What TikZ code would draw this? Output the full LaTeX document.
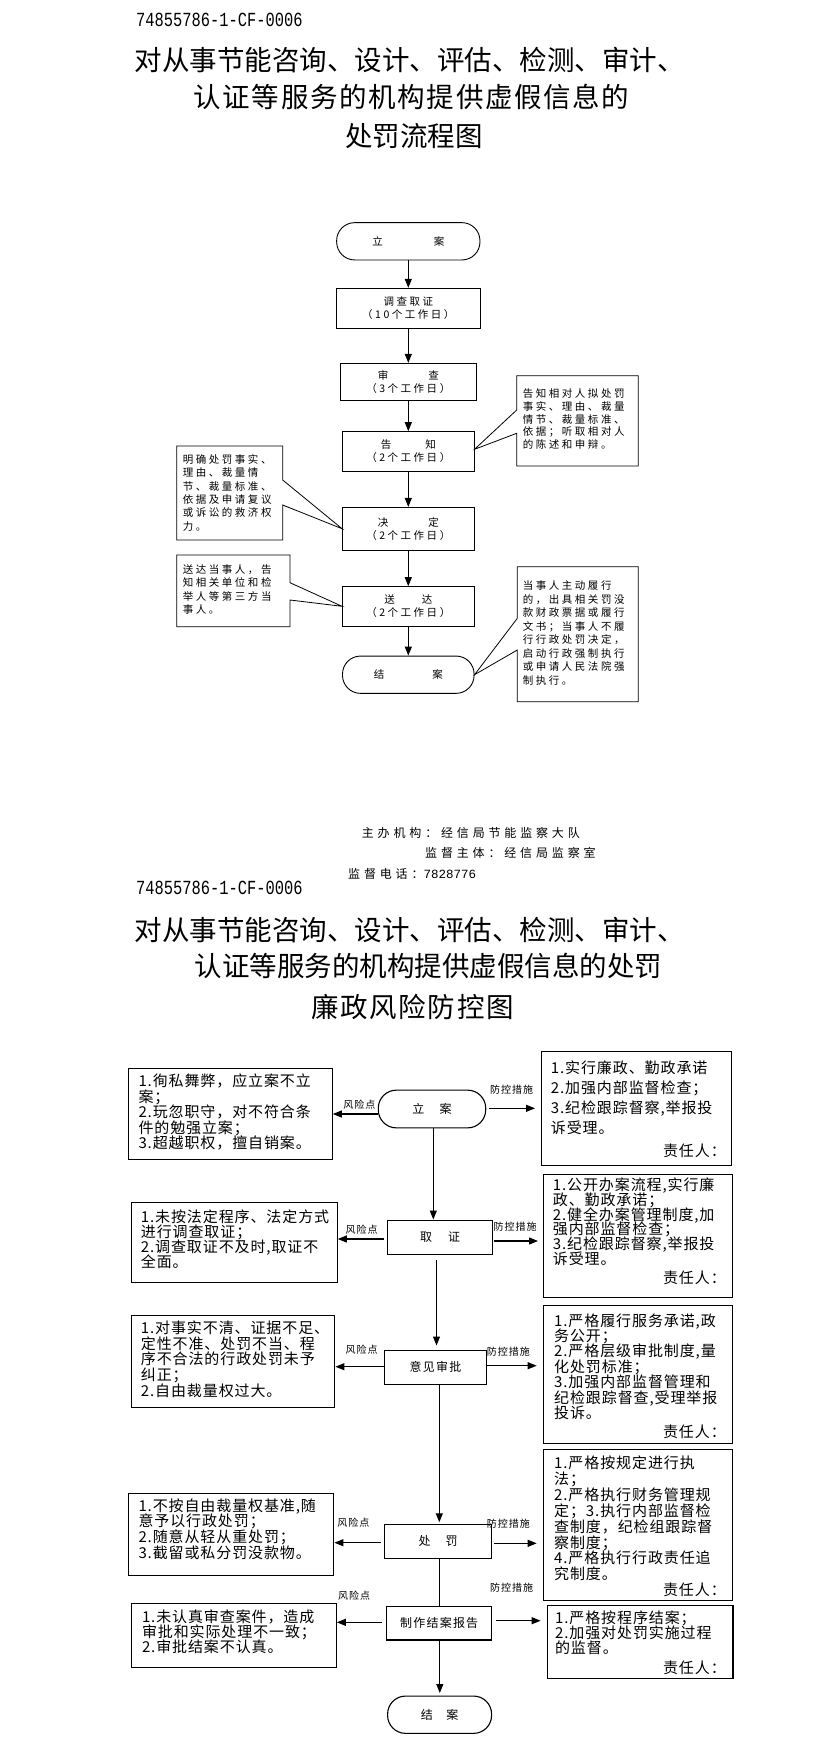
\documentclass[tikz,border=0pt]{standalone}
\usepackage{fontspec}
\setmainfont{Noto Sans CJK SC}
\newfontfamily\fa{Noto Sans CJK SC}[LetterSpace=24]
\newfontfamily\fb{Noto Sans CJK SC}[LetterSpace=6]
\newfontfamily\fc{Noto Sans CJK SC}[LetterSpace=10]
\newfontfamily\ff{Noto Sans CJK SC}[LetterSpace=32]
\newfontfamily\ft{Noto Sans CJK SC}[LetterSpace=6]
\newfontfamily\fm{Liberation Mono}[FakeStretch=0.77]
\newfontfamily\fmn{Liberation Mono}
\usetikzlibrary{arrows.meta}
\AtBeginDocument{\lineskiplimit=-100pt\lineskip=0pt}
\begin{document}
\begin{tikzpicture}[x=1pt,y=-1pt,
  every node/.append style={execute at begin node={\lineskiplimit=-100pt\lineskip=0pt}},
  ttl/.style={inner sep=0, font=\fontsize{27.5}{27.5}\selectfont},
  codef/.style={anchor=west, inner sep=0, font=\fm\fontsize{20}{20}\selectfont},
  n1/.style={draw, line width=0.9pt, inner sep=0, align=center, font=\fa\fontsize{10.5}{13.3}\selectfont},
  st1/.style={n1, rounded corners=18pt},
  a1/.style={-{Triangle[length=9pt,width=7pt]}, line width=0.9pt},
  co/.style={draw, line width=0.8pt, fill=white, line join=miter},
  ct/.style={anchor=north west, inner sep=0, align=left, font=\fa\fontsize{10.5}{#1}\selectfont},
  fo/.style={anchor=west, inner sep=0, font=\ff\fontsize{12}{12}\selectfont},
  n2/.style={draw, line width=1.1pt, inner sep=0, align=center, font=\fc\fontsize{12}{14}\selectfont},
  st2/.style={n2, rounded corners=18pt},
  bb/.style={draw, line width=1.1pt, anchor=north west, inner sep=0},
  bt/.style={anchor=north west, inner sep=0, align=left, font=\fb\fontsize{15}{#1}\selectfont},
  rp/.style={anchor=east, inner sep=0, font=\fb\fontsize{15}{15}\selectfont},
  lab/.style={inner sep=0, font=\fc\fontsize{10}{12}\selectfont},
  a2/.style={-{Triangle[length=9pt,width=7pt]}, line width=1.1pt}
]
\useasboundingbox (0,0) rectangle (823,1749);
\fill[white] (0,0) rectangle (823,1749);

% ---------- page 1 header ----------
\node[codef] (code1) at (136,20) {74855786-1-CF-0006};
\node[ttl] (t1a) at (409.5,60) {对从事节能咨询、设计、评估、检测、审计、};
\node[ttl, font=\ft\fontsize{27.5}{27.5}\selectfont] (t1b) at (411.5,97) {认证等服务的机构提供虚假信息的};
\node[ttl] (t1c) at (414,136) {处罚流程图};

% ---------- flowchart 1 ----------
\node[st1, minimum width=143.3pt, minimum height=37.3pt] (la) at (408.3,241.3) {立\hspace{51pt}案};
\node[n1, minimum width=143.3pt, minimum height=40pt] (dc) at (408.3,308.3) {调查取证\\（10个工作日）};
\node[n1, minimum width=135.3pt, minimum height=37.4pt] (sc) at (408.3,382) {审\hspace{40pt}查\\（3个工作日）};
\node[n1, minimum width=131.6pt, minimum height=39.3pt] (gz) at (408.3,451.3) {告\hspace{34pt}知\\（2个工作日）};
\node[n1, minimum width=131.6pt, minimum height=42.7pt] (jd) at (408.3,528.7) {决\hspace{40pt}定\\（2个工作日）};
\node[n1, minimum width=131.6pt, minimum height=39.3pt] (sd) at (408.3,606.3) {送\hspace{27pt}达\\（2个工作日）};
\node[st1, minimum width=131.6pt, minimum height=37.3pt] (ja) at (408.3,674.7) {结\hspace{48pt}案};

\draw[a1] (la.south) -- (dc.north);
\draw[a1] (dc.south) -- (sc.north);
\draw[a1] (sc.south) -- (gz.north);
\draw[a1] (gz.south) -- (jd.north);
\draw[a1] (jd.south) -- (sd.north);
\draw[a1] (sd.south) -- (ja.north);

% callouts
\draw[co] (516.7,375.7) -- (638.3,375.7) -- (638.3,466) -- (516.7,466) -- (516.7,433.3) -- ([yshift=2pt]gz.east) -- (516.7,410) -- cycle;
\node[ct=12.7] (c1) at (522.7,388.8) {告知相对人拟处罚\\事实、理由、裁量\\情节、裁量标准、\\依据；听取相对人\\的陈述和申辩。};

\draw[co] (176.7,446) -- (282.7,446) -- (282.7,480) -- (jd.west) -- (282.7,505) -- (282.7,540) -- (176.7,540) -- cycle;
\node[ct=13.4] (c2) at (182.7,454.1) {明确处罚事实、\\理由、裁量情\\节、裁量标准、\\依据及申请复议\\或诉讼的救济权\\力。};

\draw[co] (176.7,555) -- (290,555) -- (290,582.7) -- (sd.west) -- (290,600) -- (290,626.7) -- (176.7,626.7) -- cycle;
\node[ct=13.5] (c3) at (182.7,564.1) {送达当事人，告\\知相关单位和检\\举人等第三方当\\事人。};

\draw[co] (517.3,566.7) -- (638.3,566.7) -- (638.3,701.7) -- (517.3,701.7) -- (517.3,650) -- (ja.east) -- (517.3,618.3) -- cycle;
\node[ct=13.5] (c4) at (522.7,580.8) {当事人主动履行\\的，出具相关罚没\\款财政票据或履行\\文书；当事人不履\\行行政处罚决定，\\启动行政强制执行\\或申请人民法院强\\制执行。};

% footer
\node[fo] (f1) at (361.7,832.7) {主办机构：经信局节能监察大队};
\node[fo] (f2) at (425,853.3) {监督主体：经信局监察室};
\node[fo] (f3) at (348,874) {监督电话：{\fmn\fontsize{12.5}{12.5}\selectfont 7828776}};

% ---------- page 2 header ----------
\node[codef] (code2) at (136,888) {74855786-1-CF-0006};
\node[ttl] (t2a) at (409.5,930) {对从事节能咨询、设计、评估、检测、审计、};
\node[ttl] (t2b) at (428.5,966) {认证等服务的机构提供虚假信息的处罚};
\node[ttl, font=\ft\fontsize{27.5}{27.5}\selectfont] (t2c) at (412.5,1007) {廉政风险防控图};

% ---------- flowchart 2 ----------
\node[st2, minimum width=107.4pt, minimum height=37.7pt] (la2) at (432,1109) {立\hspace{15.5pt}案};
\node[n2, minimum width=104.6pt, minimum height=34.3pt] (qz) at (440,1237.2) {取\hspace{16pt}证};
\node[n2, minimum width=102.4pt, minimum height=34.3pt] (yj) at (435.5,1367.2) {意见审批};
\node[n2, minimum width=107.4pt, minimum height=34pt] (cf) at (438,1541.3) {处\hspace{15pt}罚};
\node[n2, minimum width=105pt, minimum height=33.3pt] (zz) at (439.2,1623.3) {制作结案报告};
\node[st2, minimum width=104pt, minimum height=37.3pt] (ja2) at (439.6,1714.7) {结\hspace{13.3pt}案};

% side boxes
\node[bb, minimum width=203.4pt, minimum height=91.6pt] (L1) at (128.3,1067.7) {};
\node[bb, minimum width=206pt, minimum height=80.6pt] (L2) at (130.7,1201.7) {};
\node[bb, minimum width=203.6pt, minimum height=92.3pt] (L3) at (130.7,1315) {};
\node[bb, minimum width=205pt, minimum height=82.3pt] (L4) at (128.3,1492.7) {};
\node[bb, minimum width=204.5pt, minimum height=63.4pt] (L5) at (131.2,1603.3) {};
\node[bb, minimum width=190pt, minimum height=114pt] (R1) at (540.7,1051) {};
\node[bb, minimum width=189pt, minimum height=122.4pt] (R2) at (542.7,1174.3) {};
\node[bb, minimum width=188.4pt, minimum height=138.3pt] (R3) at (543.3,1305) {};
\node[bb, minimum width=188.4pt, minimum height=150.7pt] (R4) at (543.3,1449.3) {};
\node[bb, minimum width=185.7pt, minimum height=73.3pt] (R5) at (546.7,1605) {};

% side box texts
\node[bt=15.6] (L1t) at (138.3,1073.5) {1.徇私舞弊，应立案不立\\案；\\2.玩忽职守，对不符合条\\件的勉强立案；\\3.超越职权，擅自销案。};
\node[bt=15] (L2t) at (140.7,1209.2) {1.未按法定程序、法定方式\\进行调查取证；\\2.调查取证不及时,取证不\\全面。};
\node[bt=15.6] (L3t) at (140.7,1320.8) {1.对事实不清、证据不足、\\定性不准、处罚不当、程\\序不合法的行政处罚未予\\纠正；\\2.自由裁量权过大。};
\node[bt=15.6] (L4t) at (138.3,1498.5) {1.不按自由裁量权基准,随\\意予以行政处罚；\\2.随意从轻从重处罚；\\3.截留或私分罚没款物。};
\node[bt=15.3] (L5t) at (141.8,1609.2) {1.未认真审查案件，造成\\审批和实际处理不一致；\\2.审批结案不认真。};

\node[bt=20] (R1t) at (550.7,1060.8) {1.实行廉政、勤政承诺\\2.加强内部监督检查；\\3.纪检跟踪督察,举报投\\诉受理。};
\node[rp] (R1p) at (726,1151) {责任人：};
\node[bt=14.8] (R2t) at (552.7,1177.5) {1.公开办案流程,实行廉\\政、勤政承诺；\\2.健全办案管理制度,加\\强内部监督检查；\\3.纪检跟踪督察,举报投\\诉受理。};
\node[rp] (R2p) at (726,1278) {责任人：};
\node[bt=15.4] (R3t) at (554,1313.2) {1.严格履行服务承诺,政\\务公开；\\2.严格层级审批制度,量\\化处罚标准；\\3.加强内部监督管理和\\纪检跟踪督查,受理举报\\投诉。};
\node[rp] (R3p) at (726,1431.7) {责任人：};
\node[bt=15.86] (R4t) at (554,1455.8) {1.严格按规定进行执\\法；\\2.严格执行财务管理规\\定；3.执行内部监督检\\查制度，纪检组跟踪督\\察制度；\\4.严格执行行政责任追\\究制度。};
\node[rp] (R4p) at (726,1590) {责任人：};
\node[bt=15] (R5t) at (554.9,1610.8) {1.严格按程序结案；\\2.加强对处罚实施过程\\的监督。};
\node[rp] (R5p) at (726,1667.3) {责任人：};

% vertical connectors
\coordinate (v1) at (433.3,0);
\coordinate (v2) at (436.5,0);
\coordinate (v3) at (439.3,0);
\coordinate (v5) at (439.8,0);
\draw[a2] (la2.south -| v1) -- (qz.north -| v1);
\draw[a2, shorten <=5.5pt, shorten >=4pt] (qz.south -| v2) -- (yj.north -| v2);
\draw[a2, shorten >=1.5pt] (yj.south -| v3) -- (cf.north -| v3);
\draw[line width=1.1pt] (cf.south -| v3) -- (zz.north -| v3);
\draw[a2, shorten >=2.5pt] (zz.south -| v5) -- (ja2.north -| v5);

% horizontal connectors
\coordinate (h1l) at (0,1114);   \coordinate (h1r) at (0,1108.3);
\coordinate (h2l) at (0,1239);   \coordinate (h2r) at (0,1241);
\coordinate (h3l) at (0,1366.7); \coordinate (h3r) at (0,1365.7);
\coordinate (h4l) at (0,1542.7); \coordinate (h4r) at (0,1543.3);
\coordinate (h5l) at (0,1622.3); \coordinate (h5r) at (0,1620.7);
\draw[a2] (la2.west |- h1l) -- (L1.east |- h1l);
\draw[a2, shorten <=2.6pt, shorten >=5.7pt] (la2.east |- h1r) -- (R1.west |- h1r);
\draw[a2, shorten <=2.7pt] (qz.west |- h2l) -- (L2.east |- h2l);
\draw[a2, shorten <=1pt, shorten >=4.7pt] (qz.east |- h2r) -- (R2.west |- h2r);
\draw[a2] (yj.west |- h3l) -- (L3.east |- h3l);
\draw[a2, shorten >=6.6pt] (yj.east |- h3r) -- (R3.west |- h3r);
\draw[a2, shorten <=2.6pt] (cf.west |- h4l) -- (L4.east |- h4l);
\draw[a2, shorten <=1.6pt, shorten >=6.6pt] (cf.east |- h4r) -- (R4.west |- h4r);
\draw[a2, shorten <=4pt] (zz.west |- h5l) -- (L5.east |- h5l);
\draw[a2, shorten <=4pt, shorten >=6.1pt] (zz.east |- h5r) -- (R5.west |- h5r);

% labels
\node[lab] (r1) at (359.3,1105) {风险点};
\node[lab] (p1) at (511.7,1090) {防控措施};
\node[lab] (r2) at (361.7,1230) {风险点};
\node[lab] (p2) at (515,1226.7) {防控措施};
\node[lab] (r3) at (361.7,1350) {风险点};
\node[lab] (p3) at (508.3,1351.7) {防控措施};
\node[lab] (r4) at (353.3,1522.7) {风险点};
\node[lab] (p4) at (508.3,1523.3) {防控措施};
\node[lab] (r5) at (354,1596) {风险点};
\node[lab] (p5) at (511.7,1588) {防控措施};
\end{tikzpicture}
\end{document}
